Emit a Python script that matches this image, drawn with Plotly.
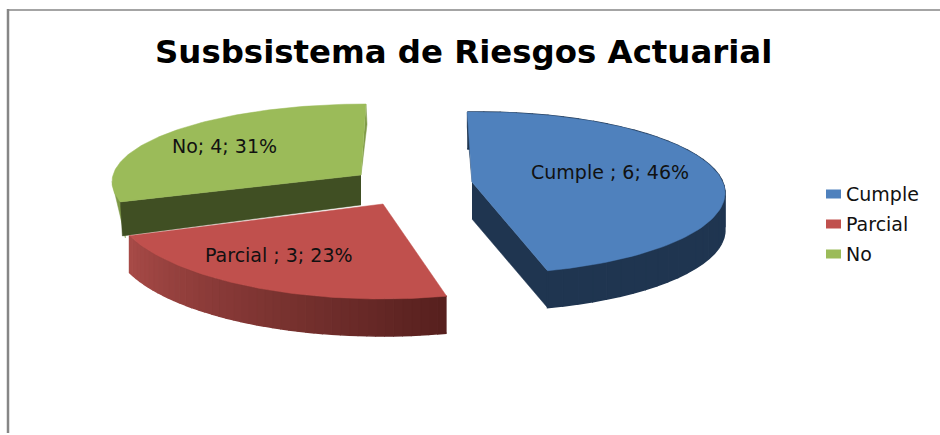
import numpy as np
import plotly.graph_objects as go

# ---- data ----
categories = ["Cumple ", "Parcial ", "No"]
values = [6, 3, 4]
percent_labels = ["46%", "23%", "31%"]
legend_labels = ["Cumple", "Parcial", "No"]
title_text = "Susbsistema de Riesgos Actuarial"

# ---- styling / projection of the tilted, exploded pie (pixel space) ----
TOP = ["#4f81bd", "#c0504d", "#9bbb59"]
WALL_LEFT = ["#1f3550", "#a84a47", "#7f9a48"]
WALL_RIGHT = ["#1f3550", "#56201e", "#7f9a48"]
CUT = ["#1f3550", "#a84a47", "#404f23"]
ELLIPSE = [(478, 193, 247, 81), (382, 201, 270, 98), (366, 182, 254, 78)]
APEX = [(472, 182), (383, 204), (361, 175)]
START_TRIM = [-2.5, 0, 6]   # perspective correction of slice starts, degrees
DEPTH = [37, 37, 34]
LABEL_POS = [(610, 172), (279, 255), (224, 146)]
TEXT = "#111111"
FONT = "DejaVu Sans"


def arc(i, a0, a1, n=90):
    cx, cy, rx, ry = ELLIPSE[i]
    t = np.radians(np.linspace(a0, a1, n))
    return cx + rx * np.sin(t), cy - ry * np.cos(t)


def poly(fig, x, y, color, lw=0.5):
    fig.add_trace(go.Scatter(x=list(x), y=list(y), mode="lines", fill="toself",
                             fillcolor=color, line=dict(color=color, width=lw),
                             hoverinfo="skip", showlegend=False))


def mix(c0, c1, f):
    a = [int(c0[k:k + 2], 16) for k in (1, 3, 5)]
    b = [int(c1[k:k + 2], 16) for k in (1, 3, 5)]
    return "rgb(%d,%d,%d)" % tuple(round(p + (q - p) * f) for p, q in zip(a, b))


fig = go.Figure()
spans = 360 * np.array(values) / sum(values)
starts = np.concatenate([[0], np.cumsum(spans)[:-1]])

# paint order: back green, front red, then blue
for i in (2, 1, 0):
    a0 = starts[i] + START_TRIM[i]
    a1 = starts[i] + spans[i] + (START_TRIM[0] if i == 0 else 0)
    ax, ay = arc(i, a0, a1)
    px, py = APEX[i]
    d = DEPTH[i]

    if i == 0:
        # narrow sliver behind the first cut edge
        poly(fig, [ax[0], ax[0], px], [ay[0], ay[0] + 0.4 * d, py], CUT[i])
        # front cut face
        poly(fig, [px, ax[-1], ax[-1], px], [py, ay[-1], ay[-1] + d, py + d], CUT[i])
    if i == 2:
        # thin sliver at the top end of the slice
        poly(fig, [ax[-1], ax[-1] + 1, px], [ay[-1], ay[-1] + 0.6 * d, py], WALL_LEFT[i])
        # outer wall near the leftmost point
        left = np.where(ax == ax.min())[0][0]
        poly(fig, [ax[left], ax[0] + 5, ax[0]], [ay[left], ay[0] + d + 2, ay[0]], WALL_LEFT[i])
        # cut face
        poly(fig, [px, ax[0], ax[0] + 2, px], [py, ay[0], ay[0] + d, py + d * 0.88], CUT[i])

    if i != 2:
        # curved outer wall, shaded along its length
        n = 44
        edges = np.linspace(a0, a1, n + 1)
        for k in range(n):
            sx, sy = arc(i, edges[k], edges[k + 1], 4)
            f = (k + 0.5) / n
            col = mix(WALL_RIGHT[i], WALL_LEFT[i], f)
            poly(fig, np.r_[sx, sx[::-1]], np.r_[sy, sy[::-1] + d], col, lw=1.5)

    # top surface
    poly(fig, np.r_[px, ax, px], np.r_[py, ay, py], TOP[i])

# frame lines
shapes = [
    dict(type="line", xref="x", yref="y", x0=8, x1=8, y0=9, y1=433,
         line=dict(color="#868686", width=2.5)),
    dict(type="line", xref="x", yref="y", x0=8, x1=940, y0=10, y1=10,
         line=dict(color="#868686", width=1.5)),
]

# legend key
LEG_Y = [194, 224, 254]
annotations = [dict(x=463.5, y=52, xref="x", yref="y", text="<b>%s</b>" % title_text,
                    showarrow=False, font=dict(family=FONT, size=32.4, color="#000000"))]
for i, lab in enumerate(legend_labels):
    shapes.append(dict(type="rect", xref="x", yref="y", x0=826, x1=841,
                       y0=LEG_Y[i] - 4.5, y1=LEG_Y[i] + 4.5,
                       fillcolor=TOP[i], line=dict(width=0)))
    annotations.append(dict(x=844, y=LEG_Y[i], xref="x", yref="y", text=lab, xanchor="left",
                            showarrow=False, font=dict(family=FONT, size=19, color=TEXT)))

for i in range(3):
    annotations.append(dict(x=LABEL_POS[i][0], y=LABEL_POS[i][1], xref="x", yref="y",
                            text="%s; %d; %s" % (categories[i], values[i], percent_labels[i]),
                            showarrow=False, font=dict(family=FONT, size=19, color=TEXT)))

fig.update_layout(
    width=940, height=435, margin=dict(l=0, r=0, t=0, b=0),
    paper_bgcolor="#ffffff", plot_bgcolor="#ffffff", showlegend=False,
    xaxis=dict(range=[0, 940], visible=False, fixedrange=True),
    yaxis=dict(range=[435, 0], visible=False, fixedrange=True),
    shapes=shapes, annotations=annotations,
)
fig.write_html("out.html", config={"displayModeBar": False},
               post_script="document.body.style.margin='0';document.body.style.overflow='hidden';")
